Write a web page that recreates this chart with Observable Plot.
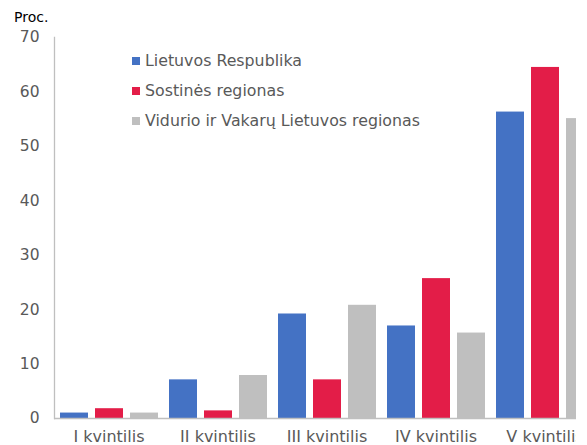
<!DOCTYPE html>
<html>
<head>
<meta charset="utf-8">
<script src="https://cdn.jsdelivr.net/npm/d3@7"></script>
<script src="https://cdn.jsdelivr.net/npm/@observablehq/plot@0.6"></script>
<style>
  html, body { margin: 0; padding: 0; background: #fff; }
  body { width: 587px; height: 445px; overflow: hidden; font-family: "DejaVu Sans", sans-serif; }
  #wrap { position: relative; width: 576px; height: 445px; overflow: hidden; }
  #chart svg { max-width: none !important; display: block; }
  .unit { position: absolute; left: 14px; top: 9px; font-size: 14px; line-height: 16px; color: #000; }
  .legend { position: absolute; left: 132px; top: 0; }
  .legend .row { position: absolute; left: 0; height: 20px; line-height: 20px; white-space: nowrap;
                 font-size: 15.8px; color: #595959; }
  .legend .sw { position: absolute; left: 0; top: 6px; width: 8px; height: 8px; }
  .legend .lbl { position: absolute; left: 13px; top: 0; }
</style>
</head>
<body>
<div id="wrap">
  <div id="chart"></div>
  <div class="unit">Proc.</div>
  <div class="legend" id="legend"></div>
</div>
<script>
// Income quintiles and the three regional series (per cent)
const groups = ["I kvintilis", "II kvintilis", "III kvintilis", "IV kvintilis", "V kvintilis"];
const series = ["Lietuvos Respublika", "Sostinės regionas", "Vidurio ir Vakarų Lietuvos regionas"];
const lietuvosRespublika = [1.0, 7.1, 19.2, 17.0, 56.3];
const sostinesRegionas = [1.8, 1.4, 7.1, 25.7, 64.5];
const vidurioVakaruRegionas = [1.0, 7.9, 20.8, 15.7, 55.1];
const colors = ["#4472c4", "#e31d48", "#bfbfbf"];
const yTicks = [0, 10, 20, 30, 40, 50, 60, 70];

const valuesBySeries = [lietuvosRespublika, sostinesRegionas, vidurioVakaruRegionas];
const rows = [];
groups.forEach((g, i) => {
  series.forEach((s, j) => rows.push({group: g, series: s, value: valuesBySeries[j][i]}));
});

const chart = Plot.plot({
  width: 605,
  height: 445,
  marginLeft: 53,
  marginRight: 4.5,
  marginTop: 37,
  marginBottom: 27,
  style: {fontFamily: "DejaVu Sans", background: "#fff", maxWidth: "none"},
  fx: {domain: groups, padding: 0, label: null},
  x: {domain: series, paddingInner: 0.21, paddingOuter: 0.147, axis: null},
  y: {domain: [0, 70], label: null},
  color: {domain: series, range: colors},
  marks: [
    Plot.barY(rows, {fx: "group", x: "series", y: "value", fill: "series"}),
    Plot.ruleY([0], {stroke: "#bfbfbf", strokeWidth: 1.3}),
    // vertical axis line, only along the leftmost facet
    Plot.frame({anchor: "left", facetAnchor: "left", stroke: "#bfbfbf", strokeWidth: 1.3}),
    Plot.axisY({ticks: yTicks, tickSize: 0, tickPadding: 15, fontSize: 15.5,
                fill: "#595959", label: null}),
    Plot.axisFx({anchor: "bottom", tickSize: 0, tickPadding: 12, fontSize: 16,
                 fill: "#595959", label: null})
  ]
});
chart.style.maxWidth = "none";
document.getElementById("chart").appendChild(chart);

// Legend rows
const legend = document.getElementById("legend");
const rowCenters = [60.5, 90.5, 120.5];
series.forEach((s, i) => {
  const row = document.createElement("div");
  row.className = "row";
  row.style.top = (rowCenters[i] - 10) + "px";
  const sw = document.createElement("span");
  sw.className = "sw";
  sw.style.background = colors[i];
  const lbl = document.createElement("span");
  lbl.className = "lbl";
  lbl.textContent = s;
  row.appendChild(sw);
  row.appendChild(lbl);
  legend.appendChild(row);
});
</script>
</body>
</html>
